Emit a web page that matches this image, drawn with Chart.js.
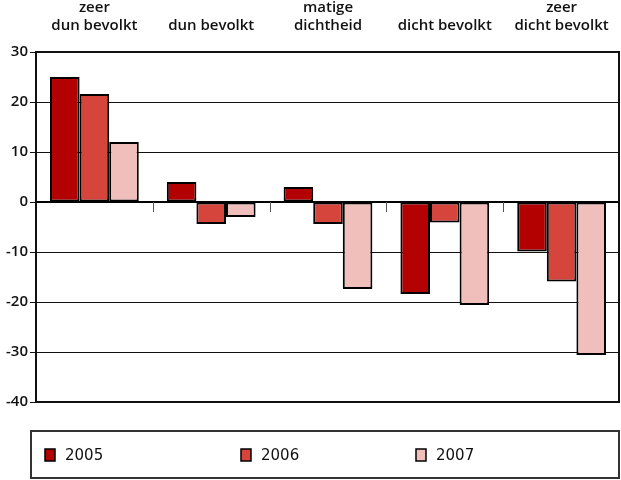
<!DOCTYPE html>
<html>
<head>
<meta charset="utf-8">
<script src="https://cdn.jsdelivr.net/npm/chart.js@4"></script>
<style>
    html, body { margin: 0; padding: 0; background: #fff; }
    #wrap { width: 621px; height: 480px; }
</style>
</head>
<body>
<div id="wrap"><canvas id="graph" width="621" height="480"></canvas></div>
<script>
var categories = [['zeer', 'dun bevolkt'], 'dun bevolkt', ['matige', 'dichtheid'], 'dicht bevolkt', ['zeer', 'dicht bevolkt']];
var years = ['2005', '2006', '2007'];
var values2005 = [25, 4, 3, -18.4, -9.9];
var values2006 = [21.6, -4.4, -4.4, -4.1, -15.9];
var values2007 = [12, -3, -17.4, -20.6, -30.6];
var yTicks = [30, 20, 10, 0, -10, -20, -30, -40];

var colors = ['#b30000', '#d5453c', '#f0bfbb'];
var fontFamily = '"Open Sans", "DejaVu Sans", sans-serif';

// frame, zero line with small ticks between groups, and the boxed legend
var decorations = {
    id: 'decorations',
    afterDatasetsDraw: function (chart) {
        var ctx = chart.ctx;
        var area = chart.chartArea;
        var x = chart.scales.x;
        var y = chart.scales.y;
        var zero = Math.round(y.getPixelForValue(0));
        ctx.save();

        // zero line
        ctx.strokeStyle = '#000';
        ctx.lineWidth = 2;
        ctx.beginPath();
        ctx.moveTo(area.left, zero);
        ctx.lineTo(area.right, zero);
        ctx.stroke();

        // small marks between categories
        ctx.strokeStyle = '#555';
        ctx.lineWidth = 1;
        for (var i = 1; i < categories.length; i++) {
            var bx = Math.round((x.getPixelForTick(i - 1) + x.getPixelForTick(i)) / 2) + 0.5;
            ctx.beginPath();
            ctx.moveTo(bx, zero);
            ctx.lineTo(bx, zero + 10);
            ctx.stroke();
        }

        // frame
        ctx.strokeStyle = '#111';
        ctx.lineWidth = 2;
        ctx.strokeRect(area.left, area.top, area.right - area.left - 1, area.bottom - area.top);

        // legend box
        ctx.strokeStyle = '#333';
        ctx.lineWidth = 2;
        ctx.strokeRect(31, 431, 588, 47);

        var itemX = [45, 241, 416];
        ctx.font = '15px "DejaVu Sans", sans-serif';
        ctx.textBaseline = 'middle';
        chart.data.datasets.forEach(function (ds, k) {
            ctx.fillStyle = ds.backgroundColor;
            ctx.fillRect(itemX[k], 449, 10, 12);
            ctx.strokeStyle = '#000';
            ctx.lineWidth = 1.5;
            ctx.strokeRect(itemX[k], 449, 10, 12);
            ctx.fillStyle = '#111';
            ctx.fillText(ds.label, itemX[k] + 20, 456);
        });
        ctx.restore();
    }
};

var dataSets = [values2005, values2006, values2007].map(function (vals, k) {
    return {
        label: years[k],
        data: vals,
        backgroundColor: colors[k],
        borderColor: '#000',
        borderWidth: 2,
        borderSkipped: false,
        categoryPercentage: 0.76,
        barPercentage: 1
    };
});

new Chart(document.getElementById('graph').getContext('2d'), {
    type: 'bar',
    data: {
        labels: categories,
        datasets: dataSets
    },
    plugins: [decorations],
    options: {
        responsive: false,
        maintainAspectRatio: false,
        animation: false,
        layout: {
            padding: { left: 0, right: 1, top: 0, bottom: 78 }
        },
        scales: {
            x: {
                position: 'top',
                grid: { display: false },
                border: { display: false },
                afterFit: function (scale) { scale.height = 52; },
                ticks: {
                    color: '#111',
                    padding: 10,
                    maxRotation: 0,
                    autoSkip: false,
                    font: { family: fontFamily, size: 15, weight: '600', lineHeight: 1.15 }
                }
            },
            y: {
                min: -40,
                max: 30,
                afterFit: function (scale) { scale.width = 36; },
                afterBuildTicks: function (scale) {
                    scale.ticks = yTicks.map(function (v) { return { value: v }; });
                },
                grid: {
                    color: '#111',
                    lineWidth: 1,
                    tickLength: 6,
                    drawTicks: true
                },
                border: { display: false },
                ticks: {
                    color: '#111',
                    padding: 2,
                    font: { family: fontFamily, size: 15, weight: '600' },
                    callback: function (val) { return val; }
                }
            }
        },
        plugins: {
            legend: { display: false },
            tooltip: { enabled: false }
        }
    }
});
</script>
</body>
</html>
